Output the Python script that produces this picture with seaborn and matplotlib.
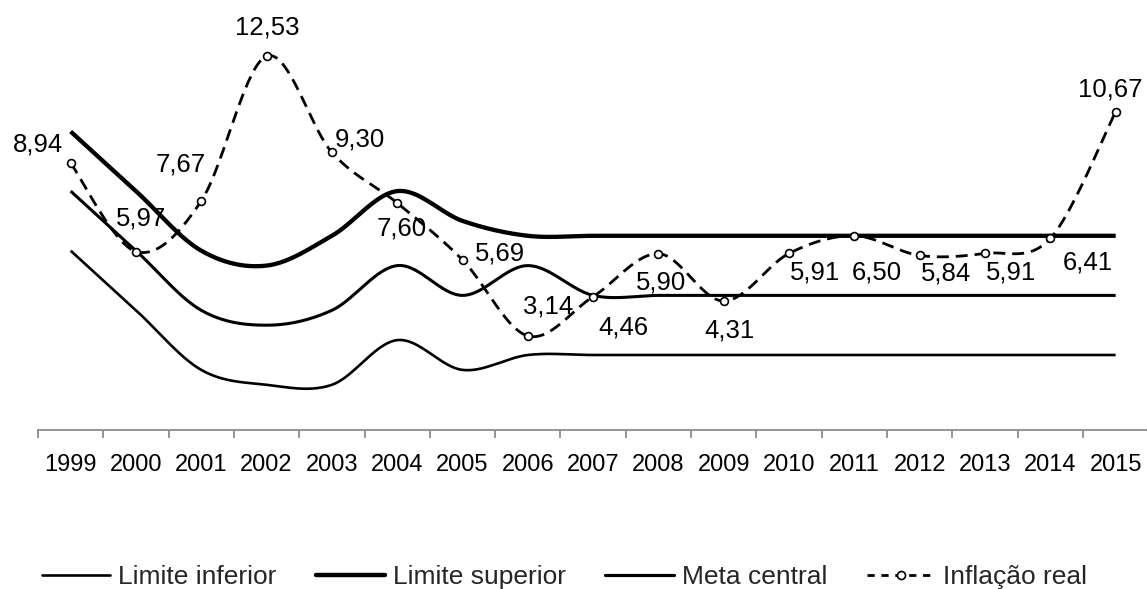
import numpy as np
import matplotlib
matplotlib.use("Agg")
import matplotlib.pyplot as plt
import seaborn as sns
import pandas as pd
from matplotlib.lines import Line2D

# ---------------- data ----------------
years = ['1999', '2000', '2001', '2002', '2003', '2004', '2005', '2006', '2007',
         '2008', '2009', '2010', '2011', '2012', '2013', '2014', '2015']
limite_inferior = [6.0, 4.0, 2.0, 1.5, 1.5, 3.0, 2.0, 2.5, 2.5, 2.5, 2.5, 2.5, 2.5, 2.5, 2.5, 2.5, 2.5]
limite_superior = [10.0, 8.0, 6.0, 5.5, 6.5, 8.0, 7.0, 6.5, 6.5, 6.5, 6.5, 6.5, 6.5, 6.5, 6.5, 6.5, 6.5]
meta_central = [8.0, 6.0, 4.0, 3.5, 4.0, 5.5, 4.5, 5.5, 4.5, 4.5, 4.5, 4.5, 4.5, 4.5, 4.5, 4.5, 4.5]
inflacao_real = [8.94, 5.97, 7.67, 12.53, 9.30, 7.60, 5.69, 3.14, 4.46, 5.90, 4.31,
                 5.91, 6.50, 5.84, 5.91, 6.41, 10.67]

# label offsets in pixels (dx right, dy down) -- styling only
label_offsets = [(-33, -19), (5, -33), (-21, -36), (1, -29), (28, -13), (4, 25), (37, -6),
                 (20, -29), (30, 31), (3, 29), (6, 29), (26, 19), (22, 37), (26, 18),
                 (26, 19), (37, 24), (-5, -22)]

# ---------------- style ----------------
sns.set_theme(style="white")
plt.rcParams['font.family'] = ['Liberation Sans', 'DejaVu Sans']
FS_TICK = 17
FS_LAB = 18.5
FS_LEG = 19


def smooth(xs, ys, n=40):
    """Catmull-Rom style smoothing (like spreadsheet 'smoothed line')."""
    P = np.column_stack([xs, ys]).astype(float)
    m = len(P)
    out = []
    for i in range(m - 1):
        p0 = P[i - 1] if i > 0 else P[i]
        p1 = P[i]
        p2 = P[i + 1]
        p3 = P[i + 2] if i + 2 < m else P[i + 1]
        c1 = p1 + (p2 - p0) / 6.0
        c2 = p2 - (p3 - p1) / 6.0
        t = np.linspace(0, 1, n, endpoint=(i == m - 2))[:, None]
        seg = ((1 - t) ** 3) * p1 + 3 * ((1 - t) ** 2) * t * c1 + 3 * (1 - t) * t ** 2 * c2 + t ** 3 * p2
        out.append(seg)
    arr = np.vstack(out)
    return arr[:, 0], arr[:, 1]


fig = plt.figure(figsize=(11.47, 5.89), dpi=100)
ax = fig.add_axes([38 / 1147, (589 - 429.5) / 589, 1110.3 / 1147, 417.2 / 589])

x = np.arange(len(years))
df = pd.DataFrame({'x': x, 'inf': limite_inferior, 'sup': limite_superior,
                   'meta': meta_central, 'real': inflacao_real})

series = [('inf', 1.9), ('sup', 3.1), ('meta', 2.2)]
for col, lw in series:
    sx, sy = smooth(df['x'], df[col])
    sns.lineplot(x=sx, y=sy, ax=ax, color='black', lw=lw, sort=False,
                 estimator=None, solid_capstyle='butt')

sx, sy = smooth(df['x'], df['real'])
ax.plot(sx, sy, color='black', lw=2.0, dashes=(4.3, 2.5), dash_capstyle='butt')
sns.scatterplot(data=df, x='x', y='real', ax=ax, marker='o', s=32,
                facecolor='white', edgecolor='black', linewidth=1.2, zorder=5)

for xi, v, (dx, dy) in zip(x, inflacao_real, label_offsets):
    ax.annotate(f"{v:.2f}".replace('.', ','), (xi, v), xytext=(dx, -dy),
                textcoords='offset pixels', ha='center', va='center',
                fontsize=FS_LAB, color='black', zorder=6)

ax.set_xlim(-0.5, len(years) - 0.5)
ax.set_ylim(0, 14)
ax.set_xlabel('')
ax.set_ylabel('')
ax.set_yticks([])
ax.set_xticks(np.arange(-0.5, len(years)), minor=False)
ax.set_xticklabels([])
ax.set_xticks(x, minor=True)
ax.set_xticklabels(years, minor=True, fontsize=FS_TICK, color='black')
ax.tick_params(axis='x', which='major', length=6, width=1.3, color='#8c8c8c', direction='out',
               bottom=True)
ax.tick_params(axis='x', which='minor', length=0, pad=17.5, bottom=True)
for side in ['top', 'right', 'left']:
    ax.spines[side].set_visible(False)
ax.spines['bottom'].set_color('#8c8c8c')
ax.spines['bottom'].set_linewidth(1.3)
ax.patch.set_alpha(0)

handles = [
    Line2D([], [], color='black', lw=1.9),
    Line2D([], [], color='black', lw=3.2),
    Line2D([], [], color='black', lw=2.3),
    Line2D([], [], color='black', lw=2.0, dashes=(2.6, 2.4), marker='o', markersize=5.8,
           markerfacecolor='white', markeredgecolor='black', markeredgewidth=1.2),
]
labels = ['Limite inferior', 'Limite superior', 'Meta central', 'Inflação real']
fig.legend(handles, labels, loc='center', bbox_to_anchor=(0.492, 0.02), ncol=4,
           frameon=False, fontsize=FS_LEG, handlelength=2.6, handletextpad=0.3,
           columnspacing=1.5, borderpad=0)

fig.savefig('out.png', dpi=100)
